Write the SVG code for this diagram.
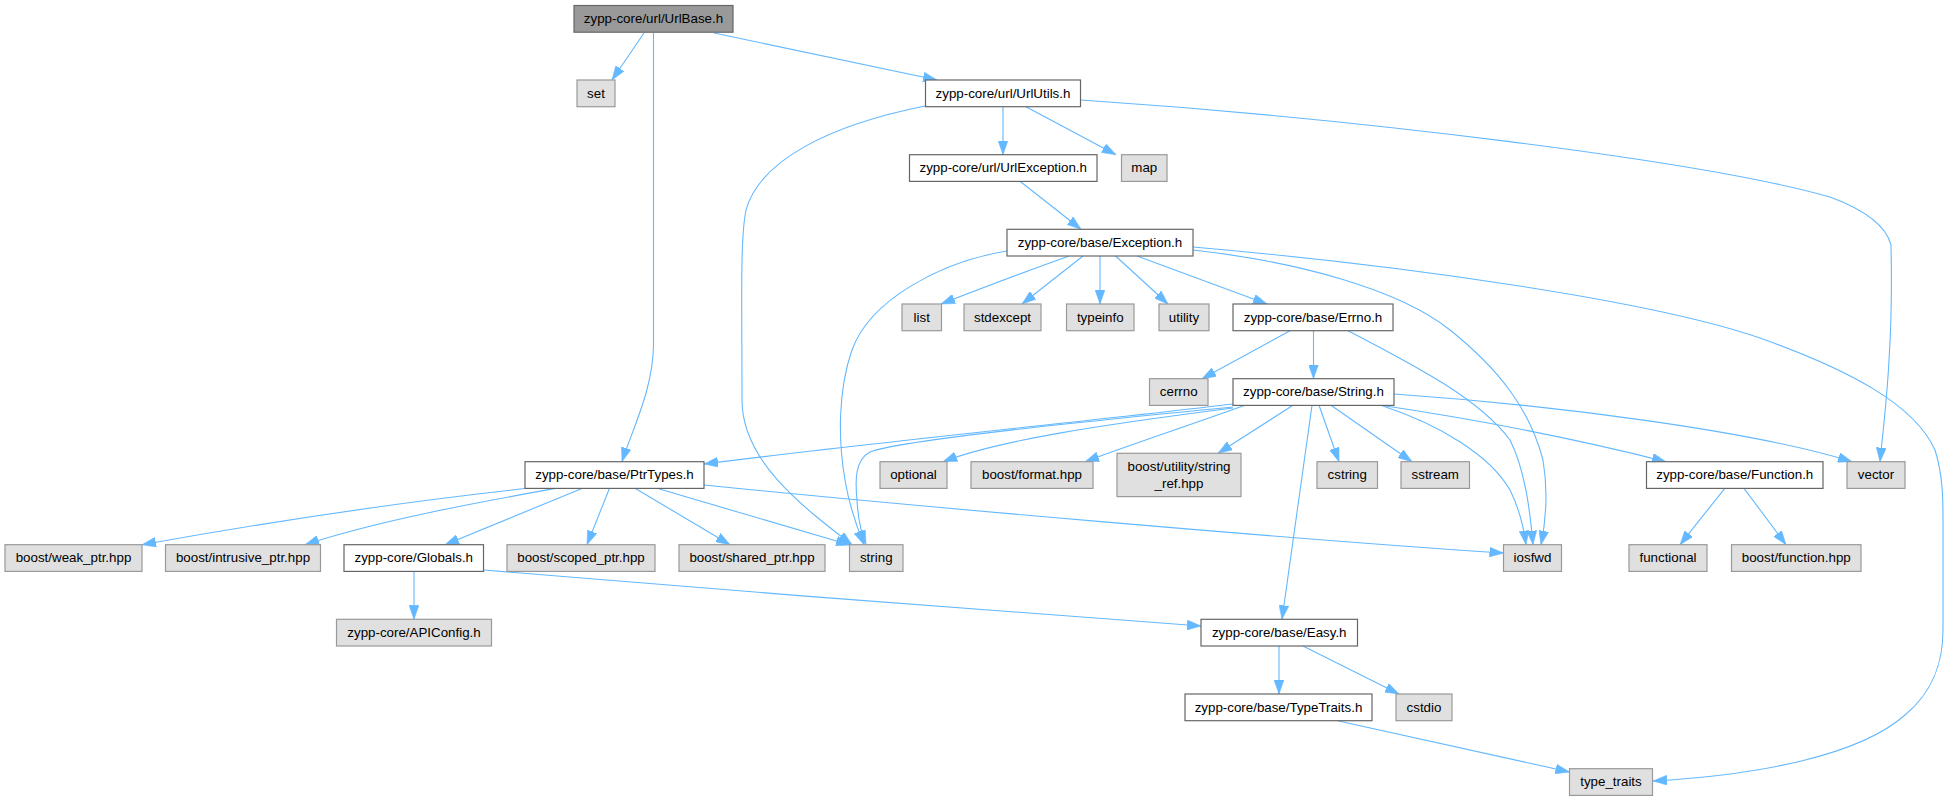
<svg xmlns="http://www.w3.org/2000/svg" width="1948" height="800" viewBox="0 0 1948 800">
<style>
.n rect{fill:#ffffff;stroke:#666666;stroke-width:1.2}
.x rect{fill:#e0e0e0;stroke:#999999;stroke-width:1.2}
.r rect{fill:#999999;stroke:#666666;stroke-width:1.2}
text{font-family:"Liberation Sans",Arial,Helvetica,sans-serif;font-size:13.33px;fill:#000000;text-anchor:middle}
#edges path{fill:none;stroke:#63b8ff;stroke-width:1.1}
</style>
<defs>
<marker id="ah" markerUnits="userSpaceOnUse" markerWidth="14" markerHeight="10" viewBox="0 0 13.3 9.4" refX="13.3" refY="4.7" orient="auto">
<path d="M0,0 L13.3,4.7 L0,9.4 z" fill="#63b8ff" stroke="#63b8ff" stroke-width="0.5"/>
</marker>
</defs>
<rect x="0" y="0" width="1948" height="800" fill="#ffffff"/>
<g id="edges" marker-end="url(#ah)">
<path d="M644,33 L612,80" marker-end="url(#ah)"/>
<path d="M653.5,33 L653.5,345 C653,390 632,430 622,461.7" marker-end="url(#ah)"/>
<path d="M714,33 L937,80" marker-end="url(#ah)"/>
<path d="M925,106 C830,125 760,160 746,210 C740,240 742,300 742,400 C742,460 800,505 852,544.7" marker-end="url(#ah)"/>
<path d="M1003,106.7 L1003,154.7" marker-end="url(#ah)"/>
<path d="M1026,106.7 L1116,154.7" marker-end="url(#ah)"/>
<path d="M1081,100 C1350,118 1700,160 1830,197 C1865,210 1886,225 1891,245 C1892,290 1891,330 1889,360 C1887,400 1882,440 1880,461.7" marker-end="url(#ah)"/>
<path d="M1020,181.3 L1081,229.3" marker-end="url(#ah)"/>
<path d="M1007,251 C940,262 870,300 852,350 C838,390 838,440 845,480 C850,510 858,530 864,544.7" marker-end="url(#ah)"/>
<path d="M1069,256 C1030,270 990,285 941,304" marker-end="url(#ah)"/>
<path d="M1083,256 L1022,304" marker-end="url(#ah)"/>
<path d="M1100,256 L1100,304" marker-end="url(#ah)"/>
<path d="M1115.6,256 L1168,304" marker-end="url(#ah)"/>
<path d="M1137,256 L1267,304" marker-end="url(#ah)"/>
<path d="M1193,250 C1300,262 1400,290 1450,330 C1500,370 1530,410 1543,460 C1548,490 1546,520 1541,544.7" marker-end="url(#ah)"/>
<path d="M1193,247 C1400,265 1650,300 1760,338 C1850,370 1915,405 1935,450 C1943,475 1943,500 1943,520 L1943,630 C1943,660 1935,690 1905,715 C1860,755 1760,775 1653,781" marker-end="url(#ah)"/>
<path d="M1290,330.7 L1202,378.7" marker-end="url(#ah)"/>
<path d="M1313.5,330.7 L1313.5,378.7" marker-end="url(#ah)"/>
<path d="M1348,330.7 C1420,368 1480,400 1510,440 C1525,470 1530,510 1533,544.7" marker-end="url(#ah)"/>
<path d="M1233,404 C1100,420 850,445 704,464" marker-end="url(#ah)"/>
<path d="M1233,407 C1100,420 900,440 870,452 C855,460 855,480 857,500 C858,520 862,535 866,544.7" marker-end="url(#ah)"/>
<path d="M1233,408 C1100,425 1000,440 943,461.7" marker-end="url(#ah)"/>
<path d="M1245,405.3 C1190,425 1130,445 1085,461.7" marker-end="url(#ah)"/>
<path d="M1293,405.3 L1218,453.3" marker-end="url(#ah)"/>
<path d="M1319,405.3 L1339,461.7" marker-end="url(#ah)"/>
<path d="M1331,405.3 L1412,461.7" marker-end="url(#ah)"/>
<path d="M1381,405.3 C1440,425 1490,455 1510,490 C1520,510 1524,530 1526,544.7" marker-end="url(#ah)"/>
<path d="M1381,405.3 C1480,420 1580,440 1666,461.7" marker-end="url(#ah)"/>
<path d="M1394,394 C1550,405 1750,430 1852,461.7" marker-end="url(#ah)"/>
<path d="M1312,405.3 L1282,619.3" marker-end="url(#ah)"/>
<path d="M528,488.3 C420,500 280,520 142,544.7" marker-end="url(#ah)"/>
<path d="M556,488.3 C480,502 380,520 305,544.7" marker-end="url(#ah)"/>
<path d="M582.5,488.3 L445,544.7" marker-end="url(#ah)"/>
<path d="M609.5,488.3 L587,544.7" marker-end="url(#ah)"/>
<path d="M635,488.3 L730,544.7" marker-end="url(#ah)"/>
<path d="M657,488.3 L850,545" marker-end="url(#ah)"/>
<path d="M704,485 C900,505 1300,540 1503.5,553" marker-end="url(#ah)"/>
<path d="M414,571.3 L414,619.3" marker-end="url(#ah)"/>
<path d="M483.5,570 C700,588 1000,612 1201,626" marker-end="url(#ah)"/>
<path d="M1724.8,488.3 L1680,544.7" marker-end="url(#ah)"/>
<path d="M1744,488.3 L1786,544.7" marker-end="url(#ah)"/>
<path d="M1279,646 L1279,694" marker-end="url(#ah)"/>
<path d="M1303,646 L1399,694" marker-end="url(#ah)"/>
<path d="M1337.5,720.7 L1569.5,772" marker-end="url(#ah)"/>
</g>
<g id="UrlBase" class="r"><rect x="574" y="5.5" width="159" height="26.7"/><text x="653.5" y="23.2">zypp-core/url/UrlBase.h</text></g>
<g id="set" class="x"><rect x="577" y="80" width="38" height="26.7"/><text x="596" y="97.7">set</text></g>
<g id="UrlUtils" class="n"><rect x="925.5" y="80" width="155" height="26.7"/><text x="1003" y="97.7">zypp-core/url/UrlUtils.h</text></g>
<g id="UrlException" class="n"><rect x="909.5" y="154.7" width="187.5" height="26.7"/><text x="1003.25" y="172.4">zypp-core/url/UrlException.h</text></g>
<g id="map" class="x"><rect x="1121.5" y="154.7" width="45.5" height="26.7"/><text x="1144.25" y="172.4">map</text></g>
<g id="Exception" class="n"><rect x="1007" y="229.3" width="186" height="26.7"/><text x="1100" y="247">zypp-core/base/Exception.h</text></g>
<g id="list" class="x"><rect x="902" y="304" width="39.5" height="26.7"/><text x="921.75" y="321.7">list</text></g>
<g id="stdexcept" class="x"><rect x="964" y="304" width="77" height="26.7"/><text x="1002.5" y="321.7">stdexcept</text></g>
<g id="typeinfo" class="x"><rect x="1066.5" y="304" width="67.5" height="26.7"/><text x="1100.25" y="321.7">typeinfo</text></g>
<g id="utility" class="x"><rect x="1159" y="304" width="50" height="26.7"/><text x="1184" y="321.7">utility</text></g>
<g id="Errno" class="n"><rect x="1233" y="304" width="160" height="26.7"/><text x="1313" y="321.7">zypp-core/base/Errno.h</text></g>
<g id="cerrno" class="x"><rect x="1149.5" y="378.7" width="58.5" height="26.7"/><text x="1178.75" y="396.4">cerrno</text></g>
<g id="String" class="n"><rect x="1233" y="378.7" width="161" height="26.7"/><text x="1313.5" y="396.4">zypp-core/base/String.h</text></g>
<g id="PtrTypes" class="n"><rect x="525" y="461.7" width="179" height="26.7"/><text x="614.5" y="479.4">zypp-core/base/PtrTypes.h</text></g>
<g id="optional" class="x"><rect x="880" y="461.7" width="67" height="26.7"/><text x="913.5" y="479.4">optional</text></g>
<g id="format" class="x"><rect x="971" y="461.7" width="122" height="26.7"/><text x="1032" y="479.4">boost/format.hpp</text></g>
<g id="string_ref" class="x"><rect x="1117" y="453.3" width="124" height="43.3"/><text x="1179" y="471.3">boost/utility/string</text><text x="1179" y="487.9">_ref.hpp</text></g>
<g id="cstring" class="x"><rect x="1317" y="461.7" width="60.5" height="26.7"/><text x="1347.25" y="479.4">cstring</text></g>
<g id="sstream" class="x"><rect x="1401" y="461.7" width="68.5" height="26.7"/><text x="1435.25" y="479.4">sstream</text></g>
<g id="Function" class="n"><rect x="1646.5" y="461.7" width="176.5" height="26.7"/><text x="1734.75" y="479.4">zypp-core/base/Function.h</text></g>
<g id="vector" class="x"><rect x="1847" y="461.7" width="58" height="26.7"/><text x="1876" y="479.4">vector</text></g>
<g id="weak_ptr" class="x"><rect x="5" y="544.7" width="137" height="26.7"/><text x="73.5" y="562.4">boost/weak_ptr.hpp</text></g>
<g id="intrusive_ptr" class="x"><rect x="165.5" y="544.7" width="155" height="26.7"/><text x="243" y="562.4">boost/intrusive_ptr.hpp</text></g>
<g id="Globals" class="n"><rect x="344" y="544.7" width="139.5" height="26.7"/><text x="413.75" y="562.4">zypp-core/Globals.h</text></g>
<g id="scoped_ptr" class="x"><rect x="507" y="544.7" width="148" height="26.7"/><text x="581" y="562.4">boost/scoped_ptr.hpp</text></g>
<g id="shared_ptr" class="x"><rect x="679" y="544.7" width="146" height="26.7"/><text x="752" y="562.4">boost/shared_ptr.hpp</text></g>
<g id="string" class="x"><rect x="849.5" y="544.7" width="53.5" height="26.7"/><text x="876.25" y="562.4">string</text></g>
<g id="iosfwd" class="x"><rect x="1503.5" y="544.7" width="58" height="26.7"/><text x="1532.5" y="562.4">iosfwd</text></g>
<g id="functional" class="x"><rect x="1629" y="544.7" width="78" height="26.7"/><text x="1668" y="562.4">functional</text></g>
<g id="function_hpp" class="x"><rect x="1731.5" y="544.7" width="129.5" height="26.7"/><text x="1796.25" y="562.4">boost/function.hpp</text></g>
<g id="APIConfig" class="x"><rect x="336.5" y="619.3" width="155" height="26.7"/><text x="414" y="637">zypp-core/APIConfig.h</text></g>
<g id="Easy" class="n"><rect x="1201" y="619.3" width="156.5" height="26.7"/><text x="1279.25" y="637">zypp-core/base/Easy.h</text></g>
<g id="TypeTraits" class="n"><rect x="1185" y="694" width="187" height="26.7"/><text x="1278.5" y="711.7">zypp-core/base/TypeTraits.h</text></g>
<g id="cstdio" class="x"><rect x="1396" y="694" width="56" height="26.7"/><text x="1424" y="711.7">cstdio</text></g>
<g id="type_traits" class="x"><rect x="1569.5" y="768.7" width="83" height="26.7"/><text x="1611" y="786.4">type_traits</text></g>
</svg>
